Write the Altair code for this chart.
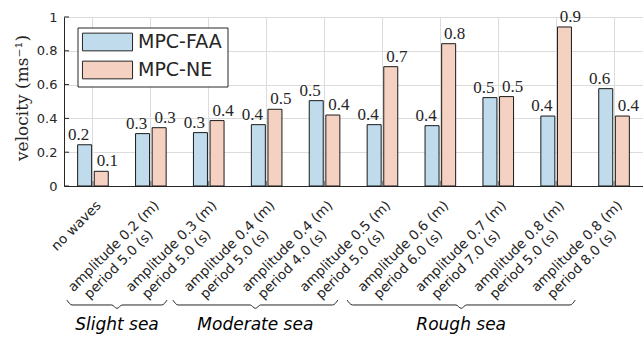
import altair as alt
import pandas as pd

# ---------------- data ----------------
conditions = [
    "no waves",
    "amplitude 0.2 (m)\nperiod 5.0 (s)",
    "amplitude 0.3 (m)\nperiod 5.0 (s)",
    "amplitude 0.4 (m)\nperiod 5.0 (s)",
    "amplitude 0.4 (m)\nperiod 4.0 (s)",
    "amplitude 0.5 (m)\nperiod 5.0 (s)",
    "amplitude 0.6 (m)\nperiod 6.0 (s)",
    "amplitude 0.7 (m)\nperiod 7.0 (s)",
    "amplitude 0.8 (m)\nperiod 5.0 (s)",
    "amplitude 0.8 (m)\nperiod 8.0 (s)",
]
series = ["MPC-FAA", "MPC-NE"]
faa = [0.244, 0.310, 0.316, 0.363, 0.505, 0.363, 0.357, 0.523, 0.414, 0.576]
ne = [0.087, 0.345, 0.387, 0.454, 0.420, 0.706, 0.842, 0.529, 0.941, 0.414]
y_ticks = [0, 0.2, 0.4, 0.6, 0.8, 1]
sea_states = ["Slight sea", "Moderate sea", "Rough sea"]

# ---------------- layout / style ----------------
W, H = 579, 169
colors = ["#bfdbec", "#f5d1c2"]
ink = "#262626"
grid = "#dcdcdc"
# brace extents in category-index units (annotation layout)
brace_spans = [(-0.45, 1.28), (1.38, 4.23), (4.39, 8.33)]
BR_TOP, BR_MID, BR_BOT, BR_HOOK, BR_TEXT = -0.675, -0.704, -0.724, 0.09, -0.822

rows = []
for i, c in enumerate(conditions):
    rows.append({"cond": c, "series": series[0], "value": faa[i]})
    rows.append({"cond": c, "series": series[1], "value": ne[i]})
df = pd.DataFrame(rows)
df_cat = pd.DataFrame({"cond": conditions})
df_yt = pd.DataFrame({"value": y_ticks})

brace_rows, text_rows = [], []
for name, (x0, x1) in zip(sea_states, brace_spans):
    xc = (x0 + x1) / 2
    pts = [(x0, BR_TOP), (x0 + BR_HOOK, BR_MID), (xc - BR_HOOK, BR_MID), (xc, BR_BOT),
           (xc + BR_HOOK, BR_MID), (x1 - BR_HOOK, BR_MID), (x1, BR_TOP)]
    for k, (bx, by) in enumerate(pts):
        brace_rows.append({"state": name, "k": k, "bx": bx, "value": by})
    text_rows.append({"state": name, "bx": xc, "value": BR_TEXT})
df_brace = pd.DataFrame(brace_rows)
df_text = pd.DataFrame(text_rows)

xscale = alt.Scale(type="band", domain=conditions, paddingInner=0, paddingOuter=0)
yscale = alt.Scale(domain=[0, 1], nice=False)
qscale = alt.Scale(domain=[-0.5, 9.5], nice=False, zero=False)

x_axis1 = alt.Axis(
    orient="bottom", title=None, labelExpr="split(datum.label, '\\n')[0]",
    labelAngle=315, labelAlign="right", labelBaseline="middle",
    labelPadding=17, labelOffset=6, labelFont="DejaVu Sans", labelFontSize=13.5,
    labelColor=ink, labelOverlap=False, labelBound=False, labelFlush=False,
    ticks=False, domain=True, domainColor=ink, grid=True, gridColor=grid,
    labelLimit=300,
)
x_axis2 = alt.Axis(
    orient="bottom", title=None, labelExpr="split(datum.label, '\\n')[1] || ''",
    labelAngle=315, labelAlign="right", labelBaseline="middle",
    labelPadding=46, labelOffset=0, labelFont="DejaVu Sans", labelFontSize=13.5,
    labelColor=ink, labelOverlap=False, labelBound=False, labelFlush=False,
    ticks=False, domain=False, grid=False, labelLimit=300,
)
y_axis = alt.Axis(
    values=y_ticks, labelExpr="format(datum.value, '~g')",
    labelFont="DejaVu Sans", labelFontSize=13, labelColor=ink, labelPadding=7,
    ticks=False, domainColor=ink, grid=True, gridColor=grid,
    title="velocity (ms⁻¹)", titleFont="DejaVu Serif", titleFontSize=17,
    titleFontWeight="normal", titleColor=ink, titleAngle=270, titleX=-37, titleY=80.5,
    titleAlign="center", titleBaseline="alphabetic",
)

legend = alt.Legend(
    title=None, orient="none", legendX=13.5, legendY=10.5, direction="vertical",
    fillColor="white", strokeColor=ink, padding=5, cornerRadius=0,
    symbolType="M-2.83,-1L2.83,-1L2.83,1L-2.83,1Z", symbolSize=313,
    symbolOffset=15.5, symbolStrokeColor=ink, symbolStrokeWidth=1, symbolOpacity=1,
    labelOffset=21, labelFont="DejaVu Sans", labelFontSize=19, labelColor=ink,
    rowPadding=5, labelLimit=300,
)

Y = lambda: alt.Y("value:Q", scale=yscale, axis=y_axis)

base = alt.Chart(df).encode(
    x=alt.X("cond:N", sort=conditions, scale=xscale, axis=x_axis1),
    xOffset=alt.XOffset("series:N", sort=series,
                        scale=alt.Scale(domain=series, paddingInner=0.157, paddingOuter=0.822)),
    y=Y(),
)
bars = base.mark_bar(stroke="#1a1a1a", strokeWidth=1).encode(
    color=alt.Color("series:N", scale=alt.Scale(domain=series, range=colors), legend=legend)
)
txt_kw = dict(font="Liberation Serif", fontSize=17, color=ink, baseline="alphabetic", dy=-5)
text_faa = base.transform_filter(alt.datum.series == series[0]).mark_text(dx=-6, **txt_kw).encode(
    text=alt.Text("value:Q", format=".1f"))
text_ne = base.transform_filter(alt.datum.series == series[1]).mark_text(dx=6, **txt_kw).encode(
    text=alt.Text("value:Q", format=".1f"))
xticks = alt.Chart(df_cat).mark_rule(color="#7f7f7f", strokeWidth=1.5).encode(
    x=alt.X("cond:N", sort=conditions, scale=xscale, axis=x_axis1),
    y=alt.datum(0, scale=yscale, axis=y_axis), y2=alt.datum(0.03),
)
main = alt.layer(bars, text_faa, text_ne, xticks)

line2 = alt.Chart(df_cat).mark_point(opacity=0).encode(
    x=alt.X("cond:N", sort=conditions, scale=xscale, axis=x_axis2),
)
yticks = alt.Chart(df_yt).mark_rule(color=ink).encode(
    y=Y(), x=alt.value(0), x2=alt.value(5),
)
braces = alt.Chart(df_brace).mark_line(interpolate="monotone", color=ink, strokeWidth=1).encode(
    x=alt.X("bx:Q", scale=qscale, axis=None),
    y=Y(),
    detail="state:N", order="k:Q",
)
sea_text = alt.Chart(df_text).mark_text(
    font="DejaVu Sans", fontStyle="italic", fontSize=17, color="black", baseline="middle"
).encode(
    x=alt.X("bx:Q", scale=qscale, axis=None),
    y=Y(),
    text="state:N",
)

chart = alt.layer(main, line2, yticks, braces, sea_text).resolve_scale(
    x="independent"
).resolve_axis(x="independent").properties(
    width=W, height=H,
    autosize=alt.AutoSizeParams(type="none"),
    padding={"left": 64, "top": 17, "right": 0, "bottom": 151},
    background="white",
).configure_view(stroke=None)

chart.save("out.html", embed_options={"renderer": "svg", "actions": False})
